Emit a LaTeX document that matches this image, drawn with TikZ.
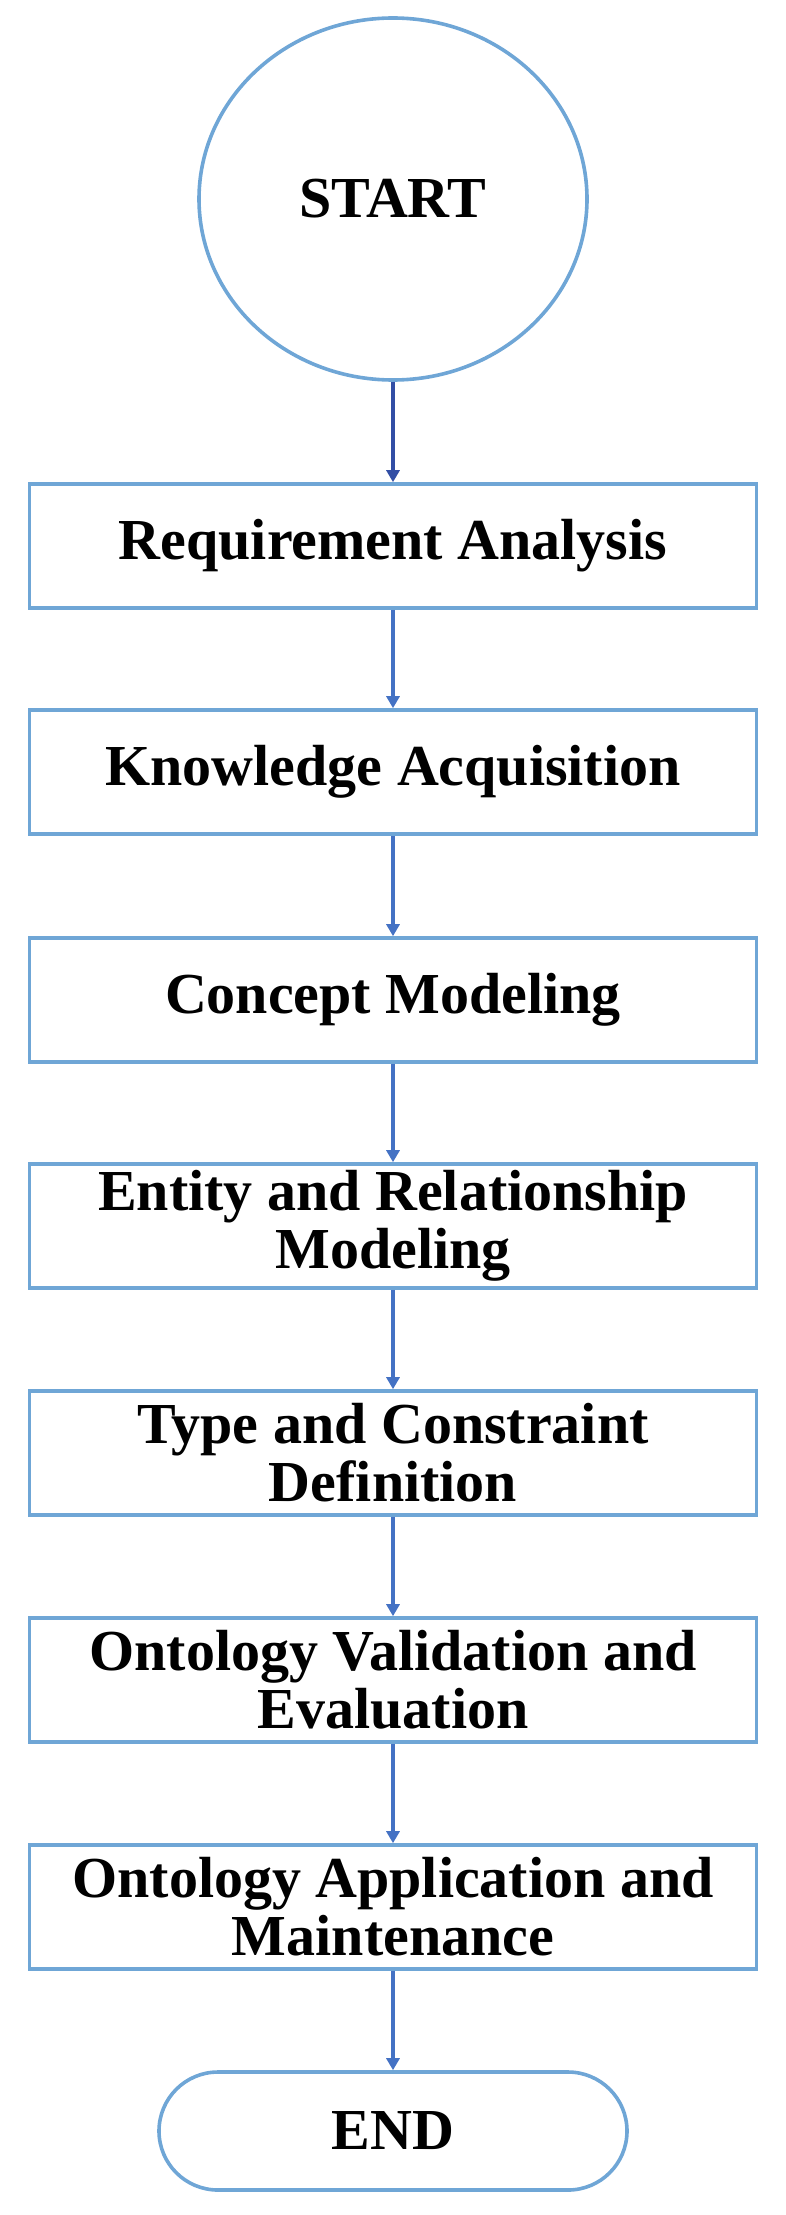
\documentclass[tikz,border=0pt]{standalone}
\usepackage{fontspec}
\setmainfont{Liberation Serif}
\usetikzlibrary{shapes.geometric,arrows.meta}

\definecolor{boxblue}{RGB}{111,166,214}
\definecolor{arrowblue}{RGB}{68,114,196}
\definecolor{arrowdark}{RGB}{50,78,165}
\newcommand{\flowfont}{\fontsize{58}{58}\selectfont\bfseries}

\tikzset{
  stepbox/.style={draw=boxblue, line width=3.6pt, rectangle, minimum width=727pt,
    minimum height=124pt, inner sep=0pt, align=center, font=\flowfont},
  startnode/.style={draw=boxblue, line width=3.6pt, ellipse, minimum width=388pt,
    minimum height=362pt, inner sep=0pt, font=\flowfont},
  endnode/.style={draw=boxblue, line width=3.6pt, rectangle, rounded corners=59pt,
    minimum width=468pt, minimum height=118pt, inner sep=0pt, font=\flowfont},
  flowarrow/.style={draw=arrowblue, line width=3.4pt,
    -{Triangle[length=12pt,width=13pt]}}
}

\begin{document}
\begin{tikzpicture}[x=1pt,y=-1pt]
\useasboundingbox (0,0) rectangle (786,2215);
\node[startnode] (start) at (393,199) {START};
\node[stepbox] (req) at (393,546) {Requirement Analysis};
\node[stepbox] (know) at (393,772) {Knowledge Acquisition};
\node[stepbox] (concept) at (393,1000) {Concept Modeling};
\node[stepbox] (entity) at (393,1226) {Entity and Relationship\\Modeling};
\node[stepbox] (type) at (393,1453) {Type and Constraint\\Definition};
\node[stepbox] (valid) at (393,1680) {Ontology Validation and\\Evaluation};
\node[stepbox] (appl) at (393,1907) {Ontology Application and\\Maintenance};
\node[endnode] (end) at (393,2131) {END};
\draw[flowarrow, draw=arrowdark, fill=arrowdark] (start) -- (req);
\draw[flowarrow] (req) -- (know);
\draw[flowarrow] (know) -- (concept);
\draw[flowarrow] (concept) -- (entity);
\draw[flowarrow] (entity) -- (type);
\draw[flowarrow] (type) -- (valid);
\draw[flowarrow] (valid) -- (appl);
\draw[flowarrow] (appl) -- (end);
\end{tikzpicture}
\end{document}
